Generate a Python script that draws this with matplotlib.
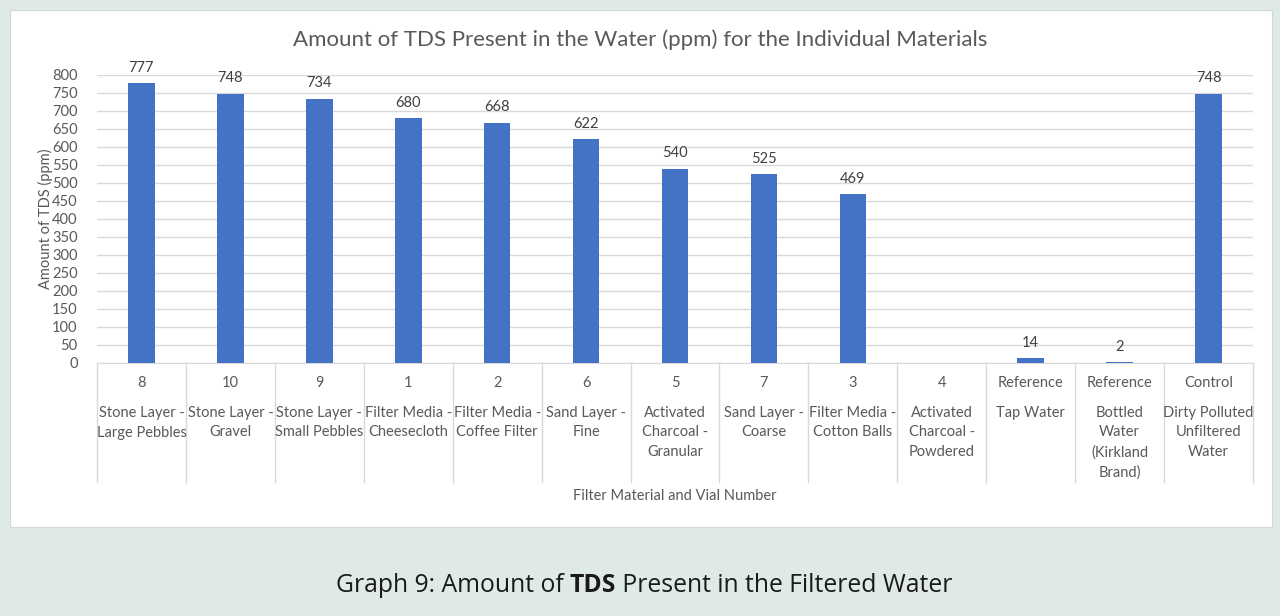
import numpy as np
import matplotlib
matplotlib.use("Agg")
import matplotlib.pyplot as plt
from matplotlib.patches import Rectangle

# data
vials = ['8', '10', '9', '1', '2', '6', '5', '7', '3', '4', 'Reference', 'Reference', 'Control']
materials = ['Stone Layer -\nLarge Pebbles', 'Stone Layer -\nGravel', 'Stone Layer -\nSmall Pebbles',
             'Filter Media -\nCheesecloth', 'Filter Media -\nCoffee Filter', 'Sand Layer -\nFine',
             'Activated\nCharcoal -\nGranular', 'Sand Layer -\nCoarse', 'Filter Media -\nCotton Balls',
             'Activated\nCharcoal -\nPowdered', 'Tap Water', 'Bottled\nWater\n(Kirkland\nBrand)',
             'Dirty Polluted\nUnfiltered\nWater']
tds = [777, 748, 734, 680, 668, 622, 540, 525, 469, np.nan, 14, 2, 748]

FONT = ['Lato', 'DejaVu Sans']
TXT = '#595959'
GRID = '#d9d9d9'
FS = 10.5
W, H = 1280, 616

fig = plt.figure(figsize=(W / 100, H / 100), dpi=100)
fig.patch.set_facecolor('#dfe9e8')

# white chart panel
fig.patches.append(Rectangle((10 / W, 1 - 527 / H), 1262 / W, 517 / H, transform=fig.transFigure,
                             facecolor='white', edgecolor='#d0d8d8', linewidth=0.8, zorder=0))

x0, x1, y0, y1 = 97, 1253, 363, 75
ax = fig.add_axes([x0 / W, 1 - y0 / H, (x1 - x0) / W, (y0 - y1) / H])
ax.set_facecolor('white')
ax.set_zorder(1)

x = np.arange(len(tds))
vals = np.nan_to_num(np.array(tds, dtype=float))
ax.bar(x, vals, width=0.3, color='#4472c4', zorder=3)
for xi, v in zip(x, tds):
    if not np.isnan(v):
        ax.annotate(f'{int(v)}', (xi, v), xytext=(0, 6), textcoords='offset points',
                    ha='center', va='bottom', fontsize=FS, color='#404040', family=FONT)

ax.set_xlim(-0.5, len(tds) - 0.5)
ax.set_ylim(0, 800)
ax.set_yticks(np.arange(0, 801, 50))
ax.yaxis.grid(True, color=GRID, linewidth=1)
ax.set_axisbelow(True)
for s in ['top', 'right', 'left']:
    ax.spines[s].set_visible(False)
ax.spines['bottom'].set_color(GRID)
ax.tick_params(axis='y', length=0, pad=14, labelsize=FS, labelcolor=TXT)
for lab in ax.get_yticklabels():
    lab.set_family(FONT)
ax.set_xticks([])

# multi-level category axis
ph = y0 - y1
tr = ax.get_xaxis_transform()
for xi in np.arange(-0.5, len(tds), 1.0):
    ax.plot([xi, xi], [0, -(482 - y0) / ph], transform=tr, color=GRID, linewidth=1, clip_on=False)
for xi, vn, mat in zip(x, vials, materials):
    ax.text(xi, -(383 - y0) / ph, vn, transform=tr, ha='center', va='center',
            fontsize=FS, color=TXT, family=FONT)
    ax.text(xi, -(406 - y0) / ph, mat, transform=tr, ha='center', va='top',
            fontsize=FS, color=TXT, family=FONT, linespacing=1.5, multialignment='center')

ax.text(0.5, -(496 - y0) / ph, 'Filter Material and Vial Number', transform=ax.transAxes,
        ha='center', va='center', fontsize=FS, color=TXT, family=FONT)
fig.text(45 / W, 1 - 219 / H, 'Amount of TDS (ppm)', rotation=90, ha='center', va='center',
         fontsize=FS, color=TXT, family=FONT)

fig.text(640 / W, 1 - 40 / H, 'Amount of TDS Present in the Water (ppm) for the Individual Materials',
         ha='center', va='center', fontsize=16, color=TXT, family=FONT)

# caption with bold "TDS"
parts = [('Graph 9: Amount of ', 'normal'), ('TDS', 'bold'), (' Present in the Filtered Water', 'normal')]
renderer = fig.canvas.get_renderer()
cap_y = 1 - 586 / H
items = []
for s, wt in parts:
    t = fig.text(0, cap_y, s, ha='left', va='center', fontsize=17.8, color='#1a1a1a',
                 family=['Open Sans', 'DejaVu Sans'], fontweight=wt)
    items.append(t)
widths = [t.get_window_extent(renderer).width for t in items]
start = 644 - sum(widths) / 2
for t, w in zip(items, widths):
    t.set_x(start / W)
    start += w

fig.savefig('out.png', dpi=100, facecolor=fig.get_facecolor())
